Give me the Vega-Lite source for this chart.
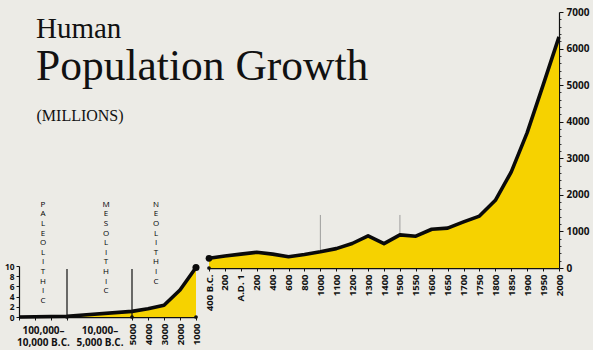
{
  "$schema": "https://vega.github.io/schema/vega-lite/v6.json",
  "background": "#ecebe6",
  "padding": {"left": 4, "top": 7, "right": 4, "bottom": 2},
  "title": {
    "text": "Human",
    "subtitle": "Population Growth",
    "anchor": "start",
    "frame": "group",
    "orient": "top",
    "offset": -81,
    "dx": 17,
    "font": "Liberation Serif",
    "fontSize": 29,
    "fontWeight": "normal",
    "color": "#111111",
    "subtitleFont": "Liberation Serif",
    "subtitleFontSize": 43.5,
    "subtitleColor": "#111111",
    "subtitlePadding": 2
  },
  "datasets": {
    "early": [
      {"year": -100000, "pop": 0},
      {"year": -10000, "pop": 0.15},
      {"year": -5000, "pop": 1.1},
      {"year": -4000, "pop": 1.6},
      {"year": -3000, "pop": 2.3},
      {"year": -2000, "pop": 5.3},
      {"year": -1000, "pop": 9.7}
    ],
    "eras": [
      {"era": "PALEOLITHIC", "mid": -55000},
      {"era": "MESOLITHIC", "mid": -7000},
      {"era": "NEOLITHIC", "mid": -3500}
    ],
    "dividers": [
      {"year": -10000, "top": 9.4, "base": 0},
      {"year": -5000, "top": 9.4, "base": 0}
    ],
    "later": [
      {"label": "400 B.C.", "pop": 265},
      {"label": "200 B.C.", "pop": 330},
      {"label": "A.D. 1", "pop": 380},
      {"label": "200", "pop": 430},
      {"label": "400", "pop": 380},
      {"label": "600", "pop": 310},
      {"label": "800", "pop": 370},
      {"label": "1000", "pop": 445},
      {"label": "1100", "pop": 530},
      {"label": "1200", "pop": 670},
      {"label": "1300", "pop": 880},
      {"label": "1400", "pop": 665},
      {"label": "1500", "pop": 905},
      {"label": "1550", "pop": 870},
      {"label": "1600", "pop": 1060},
      {"label": "1650", "pop": 1090},
      {"label": "1700", "pop": 1260},
      {"label": "1750", "pop": 1420},
      {"label": "1800", "pop": 1850},
      {"label": "1850", "pop": 2630},
      {"label": "1900", "pop": 3700},
      {"label": "1950", "pop": 5000},
      {"label": "2000", "pop": 6320}
    ],
    "markers": [
      {"label": "1000", "low": 450, "high": 1450},
      {"label": "1500", "low": 905, "high": 1450}
    ]
  },
  "bounds": "flush",
  "spacing": 13,
  "hconcat": [
    {
      "width": 177,
      "height": 305,
      "resolve": {"axis": {"x": "independent"}},
      "layer": [
        {
          "data": {"name": "early"},
          "mark": {"type": "area", "color": "#f6d200"},
          "encoding": {
            "x": {
              "field": "year", "type": "quantitative",
              "scale": {"domain": [-100000, -10000, -5000, -1000], "range": [0, 48, 113, 177], "nice": false, "zero": false},
              "axis": {
                "orient": "bottom",
                "title": null,
                "values": [-100000, -70000, -40000, -10000, -5000, -4000, -3000, -2000, -1000],
                "labelExpr": "datum.value >= -5000 ? format(-datum.value, 'd') : ''",
                "labelAngle": 270,
                "tickSize": 3,
                "labelPadding": 3,
                "domainWidth": 1.5
              }
            },
            "y": {
              "field": "pop", "type": "quantitative",
              "scale": {"domain": [0, 10], "range": [305, 254], "nice": false},
              "axis": {
                "values": [0, 2, 4, 6, 8, 10],
                "tickSize": 3,
                "labelPadding": 2,
                "labelFontSize": 8.4,
                "domainWidth": 1.2,
                "title": "(MILLIONS)",
                "titleAngle": 0,
                "titleAlign": "left",
                "titleBaseline": "middle",
                "titleX": 17,
                "titleY": 103,
                "titleFont": "Liberation Serif",
                "titleFontSize": 16,
                "titleFontWeight": "normal",
                "titleColor": "#111111"
              }
            }
          }
        },
        {
          "data": {"name": "early"},
          "mark": {"type": "line", "color": "#0a0a0a", "strokeWidth": 3.6, "strokeJoin": "round"},
          "encoding": {
            "x": {"field": "year", "type": "quantitative", "axis": null},
            "y": {"field": "pop", "type": "quantitative"}
          }
        },
        {
          "data": {"name": "dividers"},
          "mark": {"type": "rule", "color": "#111111", "strokeWidth": 1.2},
          "encoding": {
            "x": {"field": "year", "type": "quantitative", "axis": null},
            "y": {"field": "base", "type": "quantitative"},
            "y2": {"field": "top"}
          }
        },
        {
          "data": {"name": "dividers"},
          "mark": {"type": "point", "filled": true, "color": "#111111", "size": 14, "opacity": 1},
          "encoding": {
            "x": {"field": "year", "type": "quantitative", "axis": null},
            "y": {"field": "base", "type": "quantitative"}
          }
        },
        {
          "data": {"values": [{"year": -1000, "pop": 9.7}]},
          "mark": {"type": "point", "filled": true, "color": "#0a0a0a", "size": 50, "opacity": 1},
          "encoding": {
            "x": {"field": "year", "type": "quantitative", "axis": null},
            "y": {"field": "pop", "type": "quantitative"}
          }
        },
        {
          "data": {"values": [{"year": -1000, "pop": 0}]},
          "mark": {"type": "point", "filled": true, "color": "#111111", "size": 14, "opacity": 1},
          "encoding": {
            "x": {"field": "year", "type": "quantitative", "axis": null},
            "y": {"field": "pop", "type": "quantitative"}
          }
        },
        {
          "data": {"name": "eras"},
          "transform": [{"calculate": "split(datum.era, '')", "as": "letters"}],
          "mark": {"type": "text", "font": "Open Sans", "fontSize": 8, "lineHeight": 9.6, "baseline": "top", "align": "center", "color": "#000000"},
          "encoding": {
            "x": {
              "field": "mid", "type": "quantitative",
              "axis": {
                "orient": "bottom",
                "title": null,
                "values": [-55000, -7500],
                "ticks": false,
                "domain": false,
                "labelAngle": 0,
                "labelAlign": "center",
                "labelBaseline": "top",
                "labelPadding": 8,
                "labelLineHeight": 12.5,
                "labelFontSize": 10,
                "labelExpr": "datum.value == -55000 ? ['100,000–', '10,000 B.C.'] : ['10,000–', '5,000 B.C.']"
              }
            },
            "y": {"datum": 22.8, "type": "quantitative"},
            "text": {"field": "letters"}
          }
        }
      ]
    },
    {
      "width": 350,
      "height": 256,
      "resolve": {"axis": {"y": "independent"}},
      "layer": [
        {
          "data": {"name": "markers"},
          "mark": {"type": "rule", "color": "#8a8a8a", "strokeWidth": 0.8},
          "encoding": {
            "x": {"field": "label", "type": "nominal", "sort": null, "scale": {"type": "point", "padding": 0, "domain": ["400 B.C.", "200 B.C.", "A.D. 1", "200", "400", "600", "800", "1000", "1100", "1200", "1300", "1400", "1500", "1550", "1600", "1650", "1700", "1750", "1800", "1850", "1900", "1950", "2000"]}},
            "y": {
              "field": "low", "type": "quantitative",
              "scale": {"domain": [0, 7000], "nice": false},
              "axis": {
                "orient": "right",
                "title": null,
                "values": [200, 400, 600, 800, 1200, 1400, 1600, 1800, 2200, 2400, 2600, 2800, 3200, 3400, 3600, 3800, 4200, 4400, 4600, 4800, 5200, 5400, 5600, 5800, 6200, 6400, 6600, 6800],
                "labels": false,
                "domain": false,
                "tickSize": 2,
                "tickWidth": 0.8
              }
            },
            "y2": {"field": "high"}
          }
        },
        {
          "data": {"name": "later"},
          "mark": {"type": "area", "color": "#f6d200"},
          "encoding": {
            "x": {
              "field": "label", "type": "nominal", "sort": null,
              "axis": {"title": null, "labelAngle": 270, "tickSize": 3, "labelPadding": 3, "domainWidth": 1.5,
                "labelExpr": "datum.label == '200 B.C.' ? '200' : datum.label"}
            },
            "y": {
              "field": "pop", "type": "quantitative",
              "axis": {
                "orient": "right",
                "title": null,
                "values": [0, 1000, 2000, 3000, 4000, 5000, 6000, 7000],
                "format": "d",
                "tickSize": 4,
                "labelPadding": 3,
                "labelFontSize": 10,
                "domainWidth": 1.2
              }
            }
          }
        },
        {
          "data": {"name": "later"},
          "mark": {"type": "line", "color": "#0a0a0a", "strokeWidth": 3.6, "strokeJoin": "round"},
          "encoding": {
            "x": {"field": "label", "type": "nominal", "sort": null},
            "y": {"field": "pop", "type": "quantitative", "axis": null}
          }
        },
        {
          "data": {"values": [{"label": "400 B.C.", "pop": 265}]},
          "mark": {"type": "point", "filled": true, "color": "#0a0a0a", "size": 45, "opacity": 1},
          "encoding": {
            "x": {"field": "label", "type": "nominal"},
            "y": {"field": "pop", "type": "quantitative", "axis": null}
          }
        },
        {
          "data": {"values": [{"label": "400 B.C.", "pop": 0}]},
          "mark": {"type": "point", "filled": true, "color": "#111111", "size": 14, "opacity": 1},
          "encoding": {
            "x": {"field": "label", "type": "nominal"},
            "y": {"field": "pop", "type": "quantitative", "axis": null}
          }
        }
      ]
    }
  ],
  "config": {
    "view": {"stroke": null},
    "axis": {
      "grid": false,
      "domainColor": "#111111",
      "tickColor": "#111111",
      "labelColor": "#111111",
      "labelFont": "Open Sans",
      "labelFontWeight": "bold",
      "labelFontSize": 9.5
    }
  }
}
